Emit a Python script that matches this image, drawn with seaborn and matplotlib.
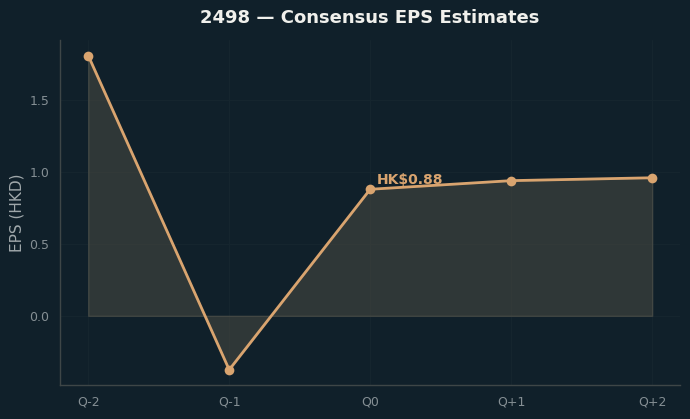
import pandas as pd
import numpy as np
import matplotlib
matplotlib.use("Agg")
import matplotlib.pyplot as plt
import seaborn as sns

quarters = ["Q-2", "Q-1", "Q0", "Q+1", "Q+2"]
eps = [1.81, -0.375, 0.88, 0.94, 0.96]
current_label = "HK$0.88"

bg = "#10202a"
line_col = "#d9a46f"

sns.set_theme(style="dark")
plt.rcParams["font.family"] = ["DejaVu Sans"]

df = pd.DataFrame({"quarter": quarters, "eps": eps})
df["pos"] = np.arange(len(df))

fig, ax = plt.subplots(figsize=(6.9, 4.19), dpi=100)
fig.patch.set_facecolor(bg)
ax.set_facecolor(bg)

ax.fill_between(df["pos"], df["eps"], 0, facecolor="#4a4a42", alpha=0.55,
                edgecolor="#5a5a50", linewidth=1)
sns.lineplot(data=df, x="pos", y="eps", ax=ax, color=line_col, linewidth=2,
             marker="o", markersize=7, markeredgewidth=0)

ax.annotate(current_label, (2, eps[2]), xytext=(5, 4), textcoords="offset points",
            color=line_col, fontsize=10, fontweight="bold")

ax.set_xticks(df["pos"])
ax.set_xticklabels(quarters)
ax.set_yticks([0.0, 0.5, 1.0, 1.5])
ax.set_xlabel("")
ax.set_ylabel("EPS (HKD)", color="#a0a8ab", fontsize=11)
ax.set_title("2498 — Consensus EPS Estimates", color="#f0f0ec", fontsize=13,
             fontweight="bold", pad=12)
ax.tick_params(colors="#858f94", labelsize=9, length=4, color="#50585a")
ax.grid(True, color="#15252e", linewidth=0.8)
for side in ["top", "right"]:
    ax.spines[side].set_visible(False)
for side in ["left", "bottom"]:
    ax.spines[side].set_color("#3e4647")
    ax.spines[side].set_linewidth(1.0)
    ax.spines[side].set_visible(True)

plt.subplots_adjust(left=0.087, right=0.986, top=0.905, bottom=0.08)
plt.savefig("out.png", facecolor=bg)
